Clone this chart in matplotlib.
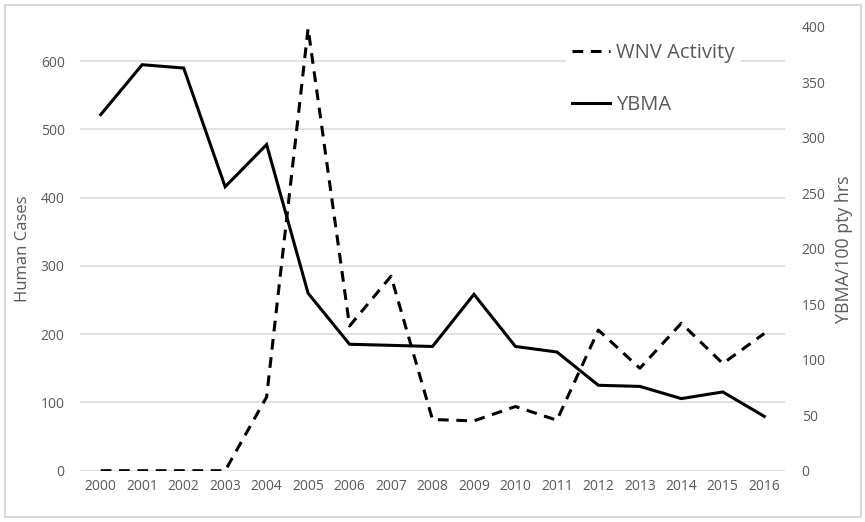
import matplotlib
matplotlib.use("Agg")
import matplotlib.pyplot as plt
from matplotlib.patches import Rectangle

years = [str(y) for y in range(2000, 2017)]
wnv_activity = [0, 0, 0, 0, 108, 648, 212, 285, 75, 73, 94, 74, 206, 150, 216, 157, 201]
ybma = [321, 366, 363, 256, 294, 160, 114, 113, 112, 159, 112, 107, 77, 76, 65, 71, 49]

plt.rcParams['font.family'] = ['Open Sans', 'DejaVu Sans']
gray = '#595959'

fig = plt.figure(figsize=(8.65, 5.22), dpi=100)
ax = fig.add_axes([80/865, 1-470.7/522, 705/865, (470.7-27)/522])
ax2 = ax.twinx()

x = list(range(len(years)))
l1, = ax.plot(x, wnv_activity, color='black', lw=2.2, linestyle=(0, (3.5, 2.5)),
              label='WNV Activity', zorder=3)
l2, = ax2.plot(x, ybma, color='black', lw=2.2, label='YBMA', zorder=3,
               solid_joinstyle='miter')

ax.set_xlim(-0.5, len(years) - 0.5)
ax.set_ylim(0, 650)
ax.set_yticks(range(0, 601, 100))
ax2.set_ylim(0, 400)
ax2.set_yticks(range(0, 401, 50))
ax.set_xticks(x)
ax.set_xticklabels(years)

ax.grid(axis='y', color='#d9d9d9', lw=1.1)
ax.set_axisbelow(True)
for a in (ax, ax2):
    for s in a.spines.values():
        s.set_visible(False)
    a.tick_params(length=0, colors=gray, labelsize=10)
ax.tick_params(axis='y', pad=11)
ax2.tick_params(axis='y', pad=12)
ax.tick_params(axis='x', pad=6)

ax.set_ylabel('Human Cases', color=gray, fontsize=12)
ax.yaxis.set_label_coords(-0.0695, 0.5)
ax2.set_ylabel('YBMA/100 pty hrs', color=gray, fontsize=12.8)
ax2.yaxis.set_label_coords(1.071, 0.5)

leg = ax2.legend(handles=[l1, l2], loc='upper left',
                 bbox_to_anchor=(566/865, 1-37/522), bbox_transform=fig.transFigure,
                 fontsize=14.5, handlelength=1.9, handletextpad=0.3,
                 labelspacing=1.6, frameon=True, borderpad=0.3, borderaxespad=0)
leg.get_frame().set_edgecolor('none')
leg.get_frame().set_facecolor('white')
leg.get_frame().set_alpha(1)
for t in leg.get_texts():
    t.set_color(gray)

fig.patches.append(Rectangle((5/865, 5/522), 856/865, 512/522, transform=fig.transFigure,
                             fill=False, edgecolor='#d9d9d9', lw=1.5))

fig.savefig('out.png', dpi=100)
